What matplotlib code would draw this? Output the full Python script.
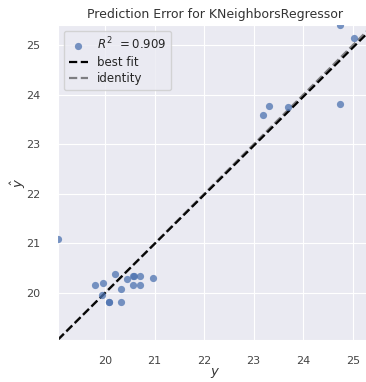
import numpy as np
import matplotlib
matplotlib.use("Agg")
import matplotlib.pyplot as plt
import seaborn as sns

y_true = [19.06, 19.80, 19.95, 20.20, 20.45, 20.57, 20.58, 20.71, 20.96,
          20.57, 20.71, 20.32, 19.93, 20.07, 20.08, 20.32,
          23.18, 23.31, 23.70, 24.75, 25.02, 24.75]
y_pred = [21.08, 20.16, 20.20, 20.38, 20.28, 20.34, 20.34, 20.34, 20.30,
          20.16, 20.16, 20.07, 19.96, 19.81, 19.81, 19.81,
          23.60, 23.78, 23.75, 23.81, 25.15, 25.41]
r2 = 0.909
# best fit line as drawn in the chart
fit_slope = 0.99
fit_intercept = 0.20
title = "Prediction Error for KNeighborsRegressor"

sns.set_style("darkgrid")
plt.rcParams['font.family'] = ['DejaVu Sans']

fig = plt.figure(figsize=(3.66, 3.82), dpi=100)
ax = fig.add_axes([58 / 366, 42 / 382, 315 / 366, 315 / 382])

ax.scatter(y_true, y_pred, c="#4C72B0", alpha=0.75, s=27, linewidths=0,
           label=r"$R^2\,\ = {:0.3f}$".format(r2), zorder=3)

lims = (min(min(y_true), min(y_pred)) - 0.01, max(max(y_true), max(y_pred)))
xs = np.array(lims)

ax.plot(xs, fit_slope * xs + fit_intercept, ls="--", lw=1.6, c="k", label="best fit", zorder=2)
# identity line
ax.plot(xs, xs, ls="--", lw=1.6, c="#111111", alpha=0.5, label="identity", zorder=2)

ax.set_xlim(lims)
ax.set_ylim(lims)
ax.set_xticks([20, 21, 22, 23, 24, 25])
ax.set_yticks([20, 21, 22, 23, 24, 25])
ax.tick_params(labelsize=8, colors="#444444")
ax.tick_params(axis="y", pad=9)
ax.tick_params(axis="x", pad=8)
ax.set_title(title, fontsize=9, color="#333333", pad=5)
ax.set_xlabel("$y$", fontsize=9.5, labelpad=0, color="#333333")
ax.set_ylabel(r"$\hat{y}$", fontsize=9.5, labelpad=-1, color="#333333")
ax.legend(loc="upper left", fontsize=8.5, frameon=True, borderpad=0.4,
          handlelength=1.6, labelspacing=0.3)

fig.savefig("out.png", dpi=100)
